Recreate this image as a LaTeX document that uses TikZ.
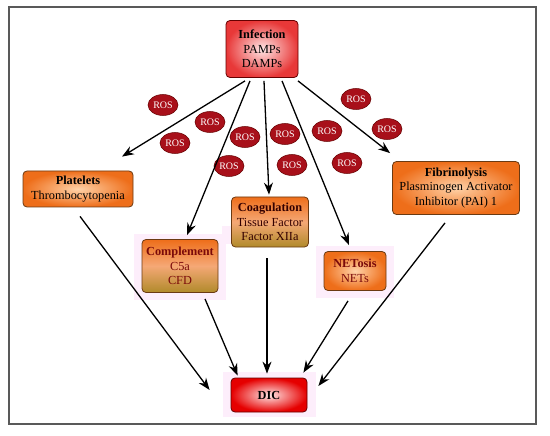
\documentclass[tikz,border=0pt]{standalone}
\usepackage{fontspec}
\setmainfont{Liberation Serif}
\usetikzlibrary{arrows.meta,calc,shapes.geometric}
\definecolor{boxorange}{HTML}{EE6E1A}
\definecolor{boxlight}{HTML}{FFD2A8}
\definecolor{boxedge}{HTML}{6B3A12}
\definecolor{olive}{HTML}{B08A2A}
\definecolor{rosred}{HTML}{A8101A}
\definecolor{textred}{HTML}{7A0A0A}
\definecolor{halo}{HTML}{FDEEFB}
\definecolor{infred}{HTML}{E83838}
\tikzset{
  box/.style={draw=boxedge, line width=0.8pt, rounded corners=4pt, align=center,
    inner sep=1pt, font=\fontsize{12.3}{14.5}\selectfont},
  orangebox/.style={box, inner color=boxlight, outer color=boxorange},
  mixbox/.style={box, top color=boxorange, bottom color=olive, middle color=boxorange!60!white},
  redbox/.style={box, draw=red!40!black, inner color=red!10!white, outer color=infred},
  ros/.style={ellipse, draw=red!40!black, line width=0.5pt, fill=rosred, text=white,
    minimum width=30pt, minimum height=21pt, inner sep=0pt, font=\fontsize{10}{11}\selectfont},
  arr/.style={-{Stealth[length=12pt,width=9pt]}, line width=1.3pt, black},
  frame/.style={draw=black!65, line width=1.3pt}
}
\begin{document}
\begin{tikzpicture}[x=1pt,y=-1pt]
\useasboundingbox (0,0) rectangle (550,436);
\draw[frame] (9,7) rectangle (536,424);
% halos
\fill[halo] (134,234) rectangle (226,300);
\fill[halo] (316,246) rectangle (394,298);
\fill[halo] (222,226) rectangle (232,244);
\fill[halo] (223,372) rectangle (316,417);
% nodes
\node[redbox, minimum width=72pt, minimum height=57pt] (inf) at (262,49)
  {\textbf{Infection}\\PAMPs\\DAMPs};
\node[orangebox, minimum width=110pt, minimum height=36pt] (plat) at (78,189)
  {\textbf{Platelets}\\Thrombocytopenia};
\node[mixbox, text=textred, minimum width=76pt, minimum height=53pt] (comp) at (180,266)
  {\textbf{Complement}\\C5a\\CFD};
\node[mixbox, text=black!80!red, minimum width=77pt, minimum height=50pt] (coag) at (270,222)
  {\textbf{Coagulation}\\Tissue Factor\\Factor XIIa};
\node[orangebox, text=textred, minimum width=62pt, minimum height=39pt] (net) at (355,271)
  {\textbf{NETosis}\\NETs};
\node[orangebox, minimum width=127pt, minimum height=53pt] (fib) at (456,188)
  {\textbf{Fibrinolysis}\\Plasminogen Activator\\Inhibitor (PAI) 1};
\node[redbox, outer color=red!90!black, minimum width=76pt, minimum height=34pt] (dic) at (269,395) {\textbf{DIC}};
% ROS
\node[ros] (r1) at (163,105) {ROS};
\node[ros] (r2) at (210,122) {ROS};
\node[ros] (r3) at (175,143) {ROS};
\node[ros] (r4) at (245,137) {ROS};
\node[ros] (r5) at (229,166) {ROS};
\node[ros] (r6) at (285,134) {ROS};
\node[ros] (r7) at (292,165) {ROS};
\node[ros] (r8) at (327,131) {ROS};
\node[ros] (r9) at (347,163) {ROS};
\node[ros] (r10) at (356,99) {ROS};
\node[ros] (r11) at (387,129) {ROS};
% arrows from infection
\draw[arr] ($(inf.south)+(-17,3)$) -- ($(plat.north)+(44,-14)$);
\draw[arr] ($(inf.south)+(-12,3)$) -- ($(comp.north)+(7,-4)$);
\draw[arr] ($(inf.south)+(2,3)$) -- ($(coag.north)+(-1,-2)$);
\draw[arr] ($(inf.south)+(20,3)$) -- ($(net.north)+(-6,-6)$);
\draw[arr] ($(inf.south)+(36,3)$) -- ($(fib.north west)+(-2,-8)$);
% arrows to DIC
\draw[arr] ($(plat.south)+(2,9)$) -- ($(dic.west)+(-21,-5)$);
\draw[arr] ($(comp.south)+(25,6)$) -- ($(dic.north west)+(7,-2)$);
\draw[arr] ($(coag.south)+(-3,11)$) -- ($(dic.north)+(-2,-4)$);
\draw[arr] ($(net.south)+(-7,10)$) -- ($(dic.north east)+(-4,-5)$);
\draw[arr] ($(fib.south)+(-11,8)$) -- ($(dic.east)+(11,-9)$);
\end{tikzpicture}
\end{document}
